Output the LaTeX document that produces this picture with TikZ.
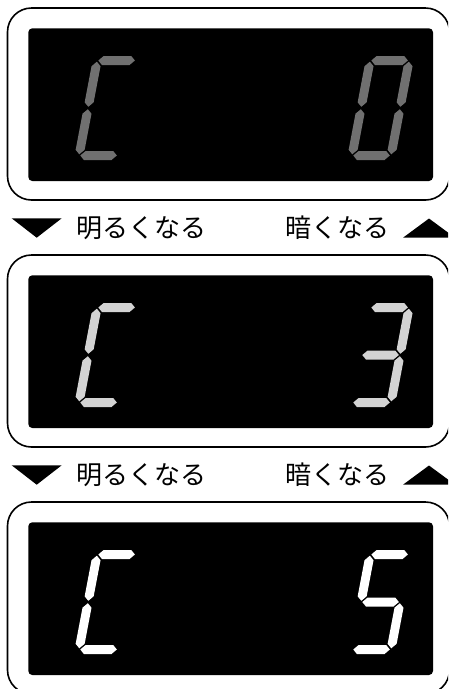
\documentclass[tikz,border=0pt]{standalone}
\usepackage{fontspec}
\newfontfamily\jpfont{Noto Sans CJK JP}
\usepackage{tikz}
\definecolor{Dim}{HTML}{707070}
\definecolor{Mid}{HTML}{D3D3D3}
\definecolor{Full}{HTML}{FFFFFF}
\definecolor{Screen}{HTML}{000000}

% one bar of a seven segment digit, in a cell 48 wide and 104 high
\newcommand{\hseg}[1]{\fill (5.7,#1) -- (10.2,{#1+4.5}) -- (37.8,{#1+4.5}) -- (42.3,#1) -- (37.8,{#1-4.5}) -- (10.2,{#1-4.5}) -- cycle;}
\newcommand{\vseg}[2]{\fill (#1,#2) -- ({#1+4.5},{#2+4.5}) -- ({#1+4.5},{#2+40.6}) -- (#1,{#2+45.1}) -- ({#1-4.5},{#2+40.6}) -- ({#1-4.5},{#2+4.5}) -- cycle;}
\newcommand{\segA}{\hseg{99.5}}
\newcommand{\segB}{\vseg{43.5}{53.2}}
\newcommand{\segC}{\vseg{43.5}{5.7}}
\newcommand{\segD}{\hseg{4.5}}
\newcommand{\segE}{\vseg{4.5}{5.7}}
\newcommand{\segF}{\vseg{4.5}{53.2}}
\newcommand{\segG}{\hseg{52}}

\begin{document}
\begin{tikzpicture}[
  x=1pt,y=-1pt,
  frame/.style={draw=black,line width=1.6pt,fill=white,rounded corners=24pt},
  screen/.style={fill=Screen,rounded corners=4pt},
  digit/.style={y=1pt,xslant=0.19},
  hint/.style={font=\jpfont\fontsize{26}{30}\selectfont,inner sep=0pt}
]
  \useasboundingbox (0,0) rectangle (448,689);
  \clip (0,0) rectangle (448,689);

  % panel 1: C 0
  \draw[frame] (7.5,8) rectangle (449.5,200);
  \fill[screen] (28.3,28.3) rectangle (433,181);
  \begin{scope}[shift={(73.7,160)},digit,fill=Dim]
    \segA\segF\segE\segD
  \end{scope}
  \begin{scope}[shift={(346.7,160)},digit,fill=Dim]
    \segA\segB\segC\segD\segE\segF
  \end{scope}

  \fill (11.7,218.3) -- (61.7,218.3) -- (36.7,237.7) -- cycle;
  \node[hint,anchor=west] (brighter1) at (76,228) {明るくなる};
  \node[hint,anchor=east] (darker1) at (389.5,228) {暗くなる};
  \fill (403,237.7) -- (429,218.5) -- (455,237.7) -- cycle;

  % panel 2: C 3
  \draw[frame] (7.5,255) rectangle (449.5,447);
  \fill[screen] (28.3,275.3) rectangle (433,428);
  \begin{scope}[shift={(73.7,407)},digit,fill=Mid]
    \segA\segF\segE\segD
  \end{scope}
  \begin{scope}[shift={(346.7,407)},digit,fill=Mid]
    \segA\segB\segG\segC\segD
  \end{scope}

  \fill (11.7,465.3) -- (61.7,465.3) -- (36.7,484.7) -- cycle;
  \node[hint,anchor=west] (brighter2) at (76,475) {明るくなる};
  \node[hint,anchor=east] (darker2) at (389.5,475) {暗くなる};
  \fill (403,484.7) -- (429,465.5) -- (455,484.7) -- cycle;

  % panel 3: C 5
  \draw[frame] (7.5,502) rectangle (449.5,694);
  \fill[screen] (28.3,522.3) rectangle (433,675);
  \begin{scope}[shift={(73.7,654)},digit,fill=Full]
    \segA\segF\segE\segD
  \end{scope}
  \begin{scope}[shift={(346.7,654)},digit,fill=Full]
    \segA\segF\segG\segC\segD
  \end{scope}
\end{tikzpicture}
\end{document}
